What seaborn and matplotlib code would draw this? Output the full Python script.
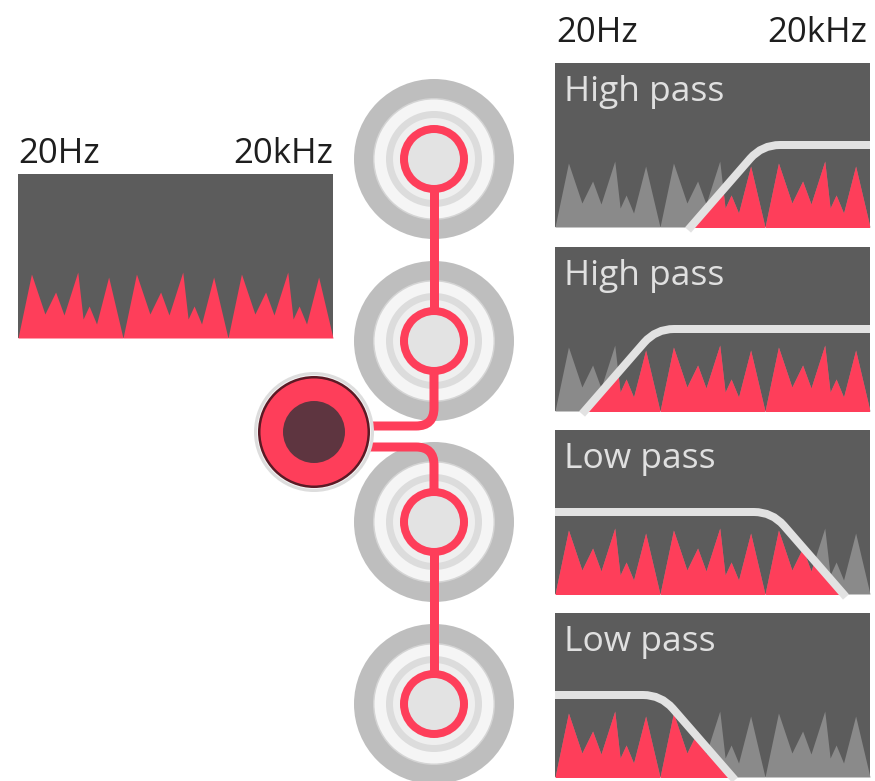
import numpy as np
import matplotlib
matplotlib.use("Agg")
import matplotlib.pyplot as plt
import seaborn as sns
from matplotlib.patches import Circle, Rectangle, Polygon, PathPatch
from matplotlib.path import Path

sns.set_theme(style="white")
plt.rcParams["font.family"] = ["Open Sans", "DejaVu Sans"]

# one period of the spectrum: position (fraction of period) and spike height (px)
spike_x = [0, .128, .256, .358, .438, .569, .620, .677, .748, .863, 1.0]
spike_h = [0, 64, 24, 46, 23, 66, 19, 32, 14, 61, 0]
n_periods = 3

freq_lo, freq_hi = "20Hz", "20kHz"
filter_titles = ["High pass", "High pass", "Low pass", "Low pass"]
filter_kind = ["high", "high", "low", "low"]
filter_knee = [207, 101, 217, 106]   # knee position inside panel (px)
filter_slope = 74                    # width of the roll-off (px)
filter_level = 82                    # pass level above panel bottom (px)

RED = "#fe3e5a"
PANEL = "#5c5c5c"
GREY_SPIKE = "#8a8a8a"
CURVE = "#e2e2e2"
PX = 0.72  # px -> pt at dpi 100

fig = plt.figure(figsize=(8.75, 7.81), dpi=100)
ax = fig.add_axes([0, 0, 1, 1])
ax.set_xlim(0, 875)
ax.set_ylim(781, 0)
ax.axis("off")


def spectrum(left, width):
    xs = np.concatenate([left + (k + np.array(spike_x)) * width / n_periods for k in range(n_periods)])
    hs = np.concatenate([spike_h] * n_periods)
    return xs, hs


def rounded(p0, knee, p1, r=18):
    knee = np.array(knee, float)
    a = np.array(p0, float) - knee
    b = np.array(p1, float) - knee
    q0 = knee + a / np.linalg.norm(a) * r
    q1 = knee + b / np.linalg.norm(b) * r
    verts = [p0, q0, knee, q1, p1]
    codes = [Path.MOVETO, Path.LINETO, Path.CURVE3, Path.CURVE3, Path.LINETO]
    return Path(verts, codes)


# input spectrum (left)
L, T, W, H = 18, 174, 315, 164
B = T + H
ax.add_patch(Rectangle((L, T), W, H, fc=PANEL, ec="none", zorder=1))
xs, hs = spectrum(L, W)
ax.fill_between(xs, B, B - hs, color=RED, lw=0, zorder=2)
ax.text(L, 163, freq_lo, fontsize=25, color="#1e1e1e", va="baseline", ha="left")
ax.text(L + W, 163, freq_hi, fontsize=25, color="#1e1e1e", va="baseline", ha="right")

# filtered spectra (right)
RL, RW, RH = 555, 315, 164
tops = [63, 247, 430, 613]
ax.text(RL + 1, 42, freq_lo, fontsize=25, color="#1e1e1e", va="baseline", ha="left")
ax.text(RL + RW - 3, 42, freq_hi, fontsize=25, color="#1e1e1e", va="baseline", ha="right")
for title, kind, knee_x, top in zip(filter_titles, filter_kind, filter_knee, tops):
    b = top + RH
    ax.add_patch(Rectangle((RL, top), RW, RH, fc=PANEL, ec="none", zorder=1))
    xs, hs = spectrum(RL, RW)
    ax.fill_between(xs, b, b - hs, color=GREY_SPIKE, lw=0, zorder=2)
    red = ax.fill_between(xs, b, b - hs, color=RED, lw=0, zorder=3)
    knee = (RL + knee_x, b - filter_level)
    if kind == "high":
        start = (RL + knee_x - filter_slope, b + 3)
        end = (RL + RW, b - filter_level)
        clip = [(start[0], b + 5), knee, end, (RL + RW, b + 5)]
    else:
        start = (RL, b - filter_level)
        end = (RL + knee_x + filter_slope, b + 3)
        clip = [(RL, b + 5), start, knee, (end[0], b + 5)]
    red.set_clip_path(Polygon(clip, closed=True, transform=ax.transData))
    ax.add_patch(PathPatch(rounded(start, knee, end), fc="none", ec=CURVE,
                           lw=8 * PX, capstyle="butt", zorder=4))
    ax.text(RL + 9, top + 38, title, fontsize=25.5, color="#e0e0e0", va="baseline", ha="left", zorder=5)

# knobs
KX = 434
knob_y = [159, 341, 522, 704]
ring_r = [80, 61, 59.5, 48, 41]
ring_c = ["#bebebe", "#d4d4d4", "#f5f5f5", "#dcdcdc", "#efefef"]
for ky in knob_y:
    for r, c in zip(ring_r, ring_c):
        ax.add_patch(Circle((KX, ky), r, fc=c, ec="none", zorder=1))

# connectors
SX, SY = 314, 432
up_y, lo_y = 426, 447
conn = dict(fc="none", ec=RED, lw=9 * PX, capstyle="butt", zorder=2)
ax.plot([KX, KX], [knob_y[0], knob_y[1]], color=RED, lw=9 * PX, solid_capstyle="butt", zorder=2)
ax.add_patch(PathPatch(rounded((KX, knob_y[1]), (KX, up_y), (SX, up_y)), **conn))
ax.add_patch(PathPatch(rounded((SX, lo_y), (KX, lo_y), (KX, knob_y[2])), **conn))
ax.plot([KX, KX], [knob_y[2], knob_y[3]], color=RED, lw=9 * PX, solid_capstyle="butt", zorder=2)

for ky in knob_y:
    ax.add_patch(Circle((KX, ky), 30, fc="#e3e3e3", ec=RED, lw=8 * PX, zorder=3))

# source
ax.add_patch(Circle((SX, SY), 60, fc="#dddddd", ec="none", zorder=4))
ax.add_patch(Circle((SX, SY), 57, fc="#f4f4f4", ec="none", zorder=4))
ax.add_patch(Circle((SX, SY), 56, fc="#5b1a25", ec="none", zorder=4))
ax.add_patch(Circle((SX, SY), 53.5, fc=RED, ec="none", zorder=4))
ax.add_patch(Circle((SX, SY), 31, fc="#5e3540", ec="none", zorder=4))

fig.savefig("out.png", dpi=100)
